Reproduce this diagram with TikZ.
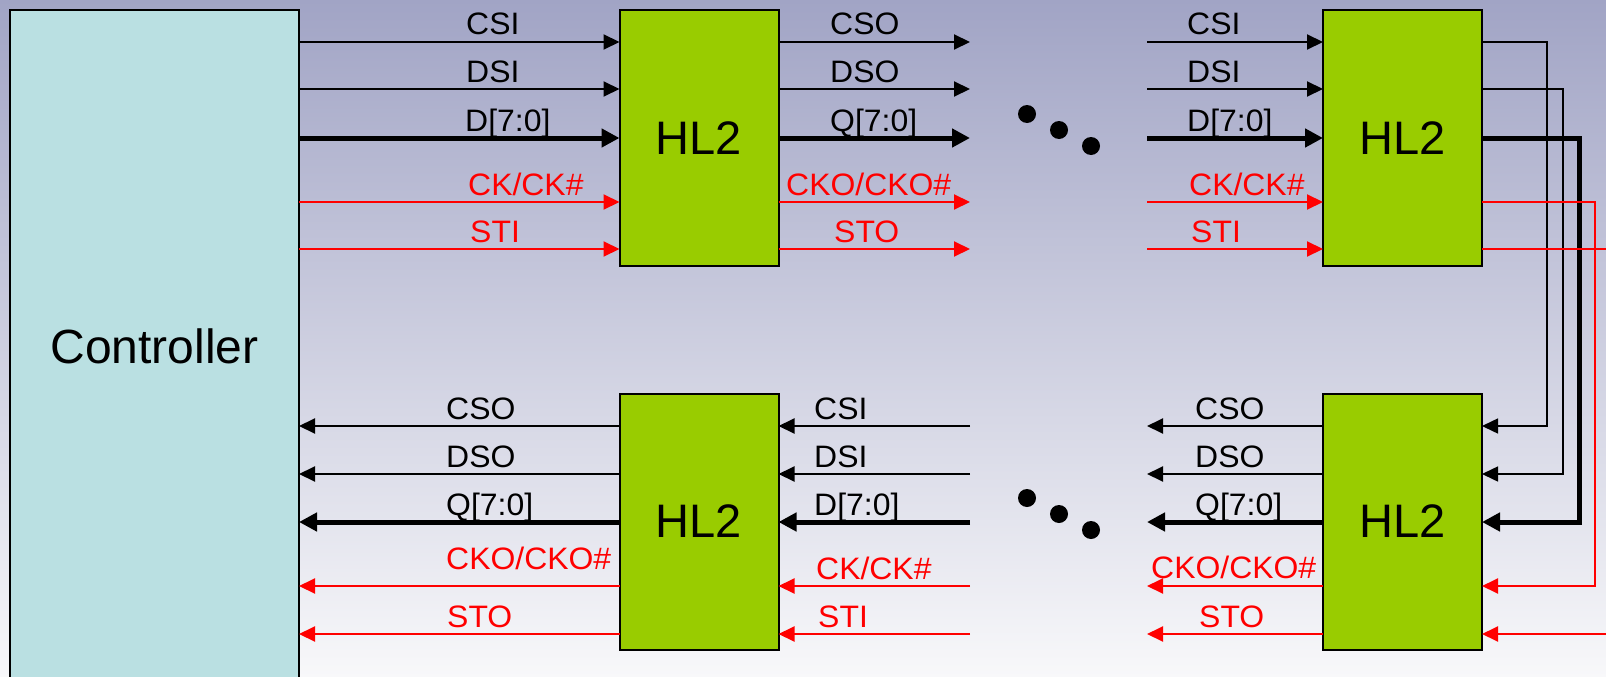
\documentclass[tikz,border=0pt]{standalone}
\usepackage{fontspec}
\setmainfont{Liberation Sans}
\newfontfamily\sigfont[FakeStretch=1.03]{Liberation Sans}
\usetikzlibrary{arrows.meta}
\definecolor{bgtop}{RGB}{161,164,197}
\definecolor{bgmid}{RGB}{220,221,233}
\definecolor{bgbot}{RGB}{248,248,250}
\definecolor{ctrlfill}{RGB}{186,224,226}
\definecolor{hlfill}{RGB}{153,204,0}
\definecolor{sigred}{RGB}{255,0,0}
\begin{document}
\begin{tikzpicture}[x=1pt,y=-1pt,
  ctrlbox/.style={draw=black,line width=2pt,fill=ctrlfill,minimum width=289pt,
    minimum height=672pt,inner sep=0pt,outer sep=0pt,font=\fontsize{48}{48}\selectfont},
  hlbox/.style={draw=black,line width=2pt,fill=hlfill,minimum width=159pt,
    minimum height=256pt,inner sep=0pt,outer sep=0pt,font=\fontsize{47}{47}\selectfont},
  wire/.style={black,line width=2pt,-{Triangle[length=16pt,width=15pt]}},
  loopwire/.style={black,line width=1.6pt,-{Triangle[length=16pt,width=15pt]}},
  bus/.style={black,line width=5pt,-{Triangle[length=18pt,width=18pt]}},
  redwire/.style={sigred,line width=2pt,-{Triangle[length=16pt,width=15pt]}},
  redline/.style={sigred,line width=2pt},
  lbl/.style={font=\sigfont\fontsize{31}{31}\selectfont,inner sep=0pt,anchor=base west},
  redlbl/.style={lbl,text=sigred},
  dot/.style={circle,fill=black,minimum size=18pt,inner sep=0pt}
]
\useasboundingbox (0,0) rectangle (1606,677);
\clip (0,0) rectangle (1606,677);
\shade[top color=bgtop,middle color=bgmid,bottom color=bgbot] (0,0) rectangle (1606,677);

% blocks
\node[ctrlbox] (ctrl) at (154.5,346) {Controller};
\node[hlbox] (hA) at (699,138) {HL2};
\node[hlbox] (hB) at (1402.5,138) {HL2};
\node[hlbox] (hC) at (699,521.5) {HL2};
\node[hlbox] (hD) at (1402.5,521.5) {HL2};

% signal rows (upper chain r, lower chain s)
\coordinate (r1) at (0,42);  \coordinate (r2) at (0,89);  \coordinate (r3) at (0,138);
\coordinate (r4) at (0,202); \coordinate (r5) at (0,249);
\coordinate (s1) at (0,426); \coordinate (s2) at (0,474); \coordinate (s3) at (0,522);
\coordinate (s4) at (0,586); \coordinate (s5) at (0,634);
% open ends around the ellipsis and the turn-around columns
\coordinate (gapL) at (970,0);
\coordinate (gapR) at (1147,0);
\coordinate (edge) at (1620,0);
\coordinate (k1) at (1547,0); \coordinate (k2) at (1563,0);
\coordinate (k3) at (1579,0); \coordinate (k4) at (1595,0);

% controller -> first HL2
\draw[wire] (ctrl.east |- r1) -- (hA.west |- r1);
\draw[wire] (ctrl.east |- r2) -- (hA.west |- r2);
\draw[bus] (ctrl.east |- r3) -- (hA.west |- r3);
\draw[redwire] (ctrl.east |- r4) -- (hA.west |- r4);
\draw[redwire] (ctrl.east |- r5) -- (hA.west |- r5);

% first HL2 outputs
\draw[wire] (hA.east |- r1) -- (gapL |- r1);
\draw[wire] (hA.east |- r2) -- (gapL |- r2);
\draw[bus] (hA.east |- r3) -- (gapL |- r3);
\draw[redwire] (hA.east |- r4) -- (gapL |- r4);
\draw[redwire] (hA.east |- r5) -- (gapL |- r5);

% inputs of last upper HL2
\draw[wire] (gapR |- r1) -- (hB.west |- r1);
\draw[wire] (gapR |- r2) -- (hB.west |- r2);
\draw[bus] (gapR |- r3) -- (hB.west |- r3);
\draw[redwire] (gapR |- r4) -- (hB.west |- r4);
\draw[redwire] (gapR |- r5) -- (hB.west |- r5);

% turn-around to the lower chain
\draw[loopwire] (hB.east |- r1) -| (k1 |- s1) -- (hD.east |- s1);
\draw[loopwire] (hB.east |- r2) -| (k2 |- s2) -- (hD.east |- s2);
\draw[bus] (hB.east |- r3) -| (k3 |- s3) -- (hD.east |- s3);
\draw[redwire] (hB.east |- r4) -| (k4 |- s4) -- (hD.east |- s4);
\draw[redline] (hB.east |- r5) -- (edge |- r5);
\draw[redwire] (edge |- s5) -- (hD.east |- s5);

% outputs of lower right HL2
\draw[wire] (hD.west |- s1) -- (gapR |- s1);
\draw[wire] (hD.west |- s2) -- (gapR |- s2);
\draw[bus] (hD.west |- s3) -- (gapR |- s3);
\draw[redwire] (hD.west |- s4) -- (gapR |- s4);
\draw[redwire] (hD.west |- s5) -- (gapR |- s5);

% inputs of lower left HL2
\draw[wire] (gapL |- s1) -- (hC.east |- s1);
\draw[wire] (gapL |- s2) -- (hC.east |- s2);
\draw[bus] (gapL |- s3) -- (hC.east |- s3);
\draw[redwire] (gapL |- s4) -- (hC.east |- s4);
\draw[redwire] (gapL |- s5) -- (hC.east |- s5);

% lower left HL2 -> controller
\draw[wire] (hC.west |- s1) -- (ctrl.east |- s1);
\draw[wire] (hC.west |- s2) -- (ctrl.east |- s2);
\draw[bus] (hC.west |- s3) -- (ctrl.east |- s3);
\draw[redwire] (hC.west |- s4) -- (ctrl.east |- s4);
\draw[redwire] (hC.west |- s5) -- (ctrl.east |- s5);

% ellipses
\node[dot] (dA1) at (1027,114) {};
\node[dot] (dA2) at (1059,130) {};
\node[dot] (dA3) at (1091,146) {};
\node[dot] (dB1) at (1027,498) {};
\node[dot] (dB2) at (1059,514) {};
\node[dot] (dB3) at (1091,530) {};

% labels, upper chain
\node[lbl] (tA1) at (466,35) {CSI};
\node[lbl] (tA2) at (466,82) {DSI};
\node[lbl] (tA3) at (465,131) {D[7:0]};
\node[redlbl] (tA4) at (468,195) {CK/CK\#};
\node[redlbl] (tA5) at (470,242) {STI};

\node[lbl] (tB1) at (830,35) {CSO};
\node[lbl] (tB2) at (830,82) {DSO};
\node[lbl] (tB3) at (830,131) {Q[7:0]};
\node[redlbl] (tB4) at (786,195) {CKO/CKO\#};
\node[redlbl] (tB5) at (834,242) {STO};

\node[lbl] (tC1) at (1187,35) {CSI};
\node[lbl] (tC2) at (1187,82) {DSI};
\node[lbl] (tC3) at (1187,131) {D[7:0]};
\node[redlbl] (tC4) at (1189,195) {CK/CK\#};
\node[redlbl] (tC5) at (1191,242) {STI};

% labels, lower chain
\node[lbl] (uA1) at (446,419) {CSO};
\node[lbl] (uA2) at (446,467) {DSO};
\node[lbl] (uA3) at (446,515) {Q[7:0]};
\node[redlbl] (uA4) at (446,569) {CKO/CKO\#};
\node[redlbl] (uA5) at (447,627) {STO};

\node[lbl] (uB1) at (814,419) {CSI};
\node[lbl] (uB2) at (814,467) {DSI};
\node[lbl] (uB3) at (814,515) {D[7:0]};
\node[redlbl] (uB4) at (816,579) {CK/CK\#};
\node[redlbl] (uB5) at (818,627) {STI};

\node[lbl] (uC1) at (1195,419) {CSO};
\node[lbl] (uC2) at (1195,467) {DSO};
\node[lbl] (uC3) at (1195,515) {Q[7:0]};
\node[redlbl] (uC4) at (1151,578) {CKO/CKO\#};
\node[redlbl] (uC5) at (1199,627) {STO};
\end{tikzpicture}
\end{document}
